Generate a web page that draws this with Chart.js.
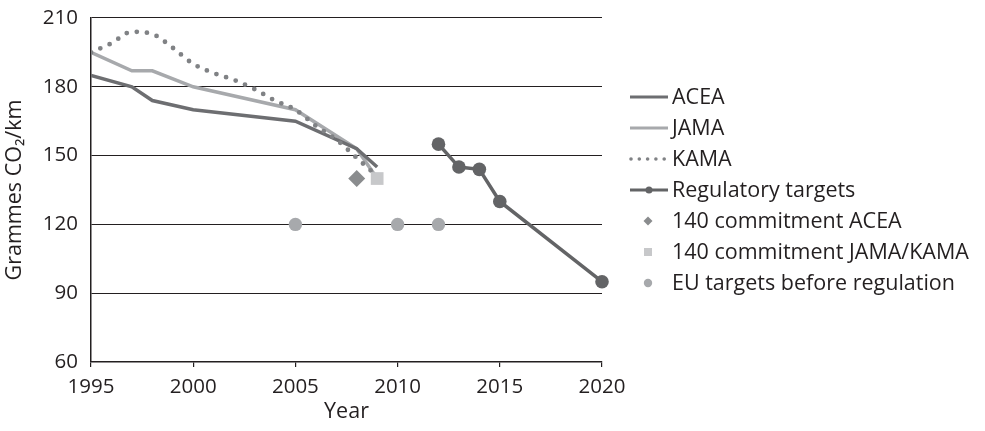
<!DOCTYPE html>
<html><head><meta charset="utf-8">
<script src="https://cdn.jsdelivr.net/npm/chart.js@4"></script>
<style>html,body{margin:0;padding:0;background:#fff}#wrap{width:985px;height:431px}</style>
</head><body><div id="wrap"><canvas id="c" width="985" height="431"></canvas></div>
<script>
// ---- data ----
const aceaYears = [1995, 1997, 1998, 2000, 2005, 2008, 2009];
const aceaValues = [185, 180, 174, 170, 165, 153, 145];
const jamaYears = [1995, 1997, 1998, 2000, 2005, 2008, 2009];
const jamaValues = [195, 187, 187, 180, 170, 153, 140];
const kamaYears = [1995, 1996, 1997, 1998, 1999, 2000, 2001, 2002, 2003, 2004, 2005, 2006, 2007, 2008, 2009];
const kamaValues = [195, 199, 204, 203, 197, 190, 186, 183, 179, 174, 170, 163, 157, 149, 141];
const regYears = [2012, 2013, 2014, 2015, 2020];
const regValues = [155, 145, 144, 130, 95];
const aceaCommitYears = [2008];
const aceaCommitValues = [140];
const jkCommitYears = [2009];
const jkCommitValues = [140];
const euYears = [2005, 2010, 2012];
const euValues = [120, 120, 120];
const seriesLabels = ['ACEA', 'JAMA', 'KAMA', 'Regulatory targets', '140 commitment ACEA', '140 commitment JAMA/KAMA', 'EU targets before regulation'];
const xTicks = [1995, 2000, 2005, 2010, 2015, 2020];
const yTicks = [60, 90, 120, 150, 180, 210];

const FONT = 'Open Sans';
const FS_TICK = 20.5;
const FS_TEXT = 21.5;
const pts = (xs, ys) => xs.map((x, i) => ({x, y: ys[i]}));

const legendPlugin = {
  id: 'customLegend',
  afterDraw(chart) {
    const ctx = chart.ctx;
    const x0 = 630, x1 = 668, tx = 672, y0 = 97, dy = 31;
    ctx.save();
    ctx.font = FS_TEXT + 'px "' + FONT + '"';
    ctx.textBaseline = 'middle';
    chart.data.datasets.forEach((ds, i) => {
      const y = y0 + i * dy;
      const kind = ds.legendKind;
      ctx.strokeStyle = ds.borderColor;
      ctx.fillStyle = ds.borderColor;
      if (kind === 'line' || kind === 'lineMarker') {
        ctx.lineWidth = 3;
        ctx.setLineDash([]);
        ctx.beginPath(); ctx.moveTo(x0, y); ctx.lineTo(x1, y); ctx.stroke();
        if (kind === 'lineMarker') { ctx.beginPath(); ctx.arc((x0 + x1) / 2, y, 3.5, 0, Math.PI * 2); ctx.fill(); }
      } else if (kind === 'dots') {
        for (let k = 0; k < 5; k++) { ctx.beginPath(); ctx.arc(x0 + 1 + k * 8.3, y, 1.8, 0, Math.PI * 2); ctx.fill(); }
      } else {
        ctx.fillStyle = ds.backgroundColor;
        const cx = 648;
        ctx.beginPath();
        if (ds.pointStyle === 'rectRot') { ctx.moveTo(cx, y - 4.5); ctx.lineTo(cx + 4.5, y); ctx.lineTo(cx, y + 4.5); ctx.lineTo(cx - 4.5, y); ctx.closePath(); }
        else if (ds.pointStyle === 'rect') { ctx.rect(cx - 4, y - 4, 8, 8); }
        else { ctx.arc(cx, y, 4.2, 0, Math.PI * 2); }
        ctx.fill();
      }
      ctx.fillStyle = '#231f20';
      ctx.fillText(ds.label, tx, y + 1);
    });
    ctx.restore();
  }
};

new Chart(document.getElementById('c'), {
  type: 'scatter',
  data: {
    datasets: [
      {label: seriesLabels[0], legendKind: 'line', data: pts(aceaYears, aceaValues), showLine: true, borderColor: '#6d6e71', backgroundColor: '#6d6e71', borderWidth: 3.5, pointRadius: 0, order: 3},
      {label: seriesLabels[1], legendKind: 'line', data: pts(jamaYears, jamaValues), showLine: true, borderColor: '#a7a9ac', backgroundColor: '#a7a9ac', borderWidth: 3.5, pointRadius: 0, order: 4},
      {label: seriesLabels[2], legendKind: 'dots', data: pts(kamaYears, kamaValues), showLine: true, borderColor: '#808285', backgroundColor: '#808285', borderWidth: 4.8, borderDash: [0, 10.2], borderCapStyle: 'round', tension: 0.4, cubicInterpolationMode: 'monotone', pointRadius: 0, order: 2},
      {label: seriesLabels[3], legendKind: 'lineMarker', data: pts(regYears, regValues), showLine: true, borderColor: '#636466', backgroundColor: '#636466', borderWidth: 3.5, pointRadius: 6.8, pointHoverRadius: 6.8, pointBorderWidth: 0, clip: false, order: 1},
      {label: seriesLabels[4], legendKind: 'marker', data: pts(aceaCommitYears, aceaCommitValues), borderColor: '#8a8c8e', backgroundColor: '#8a8c8e', pointStyle: 'rectRot', pointRadius: 8.5, pointBorderWidth: 0, order: 0},
      {label: seriesLabels[5], legendKind: 'marker', data: pts(jkCommitYears, jkCommitValues), borderColor: '#c7c8ca', backgroundColor: '#c7c8ca', pointStyle: 'rect', pointRadius: 9, pointBorderWidth: 0, order: 0},
      {label: seriesLabels[6], legendKind: 'marker', data: pts(euYears, euValues), borderColor: '#a7a9ac', backgroundColor: '#a7a9ac', pointStyle: 'circle', pointRadius: 6.7, pointBorderWidth: 0, order: 0}
    ]
  },
  options: {
    responsive: false,
    animation: false,
    events: [],
    layout: {padding: {left: 2, right: 383, top: 18, bottom: 6}},
    plugins: {legend: {display: false}, tooltip: {enabled: false}},
    scales: {
      x: {
        type: 'linear', min: 1995, max: 2020,
        afterBuildTicks: s => { s.ticks = xTicks.map(v => ({value: v})); },
        afterFit: s => { s.height = 431 - 362 - 6; s.paddingLeft = 0; s.paddingRight = 0; },
        grid: {display: true, drawOnChartArea: false, drawTicks: true, tickLength: 5, color: '#231f20', lineWidth: 1.2},
        border: {display: true, color: '#231f20', width: 1.5},
        ticks: {color: '#231f20', font: {family: FONT, size: FS_TICK}, padding: 8, maxRotation: 0, callback: v => String(v)},
        title: {display: true, text: 'Year', color: '#231f20', font: {family: FONT, size: FS_TEXT}, padding: {top: 2, bottom: 0}}
      },
      y: {
        min: 60, max: 210,
        afterBuildTicks: s => { s.ticks = yTicks.map(v => ({value: v})); },
        afterFit: s => { s.width = 91 - 2; s.paddingTop = 0; s.paddingBottom = 0; },
        grid: {color: '#231f20', lineWidth: 1.1, drawTicks: false},
        border: {display: true, color: '#231f20', width: 1.5},
        ticks: {color: '#231f20', font: {family: FONT, size: FS_TICK}, padding: 13},
        title: {display: true, text: 'Grammes CO\u2082/km', color: '#231f20', font: {family: FONT, size: FS_TEXT}, padding: {top: 0, bottom: 3}}
      }
    }
  },
  plugins: [legendPlugin]
});
</script></body></html>
